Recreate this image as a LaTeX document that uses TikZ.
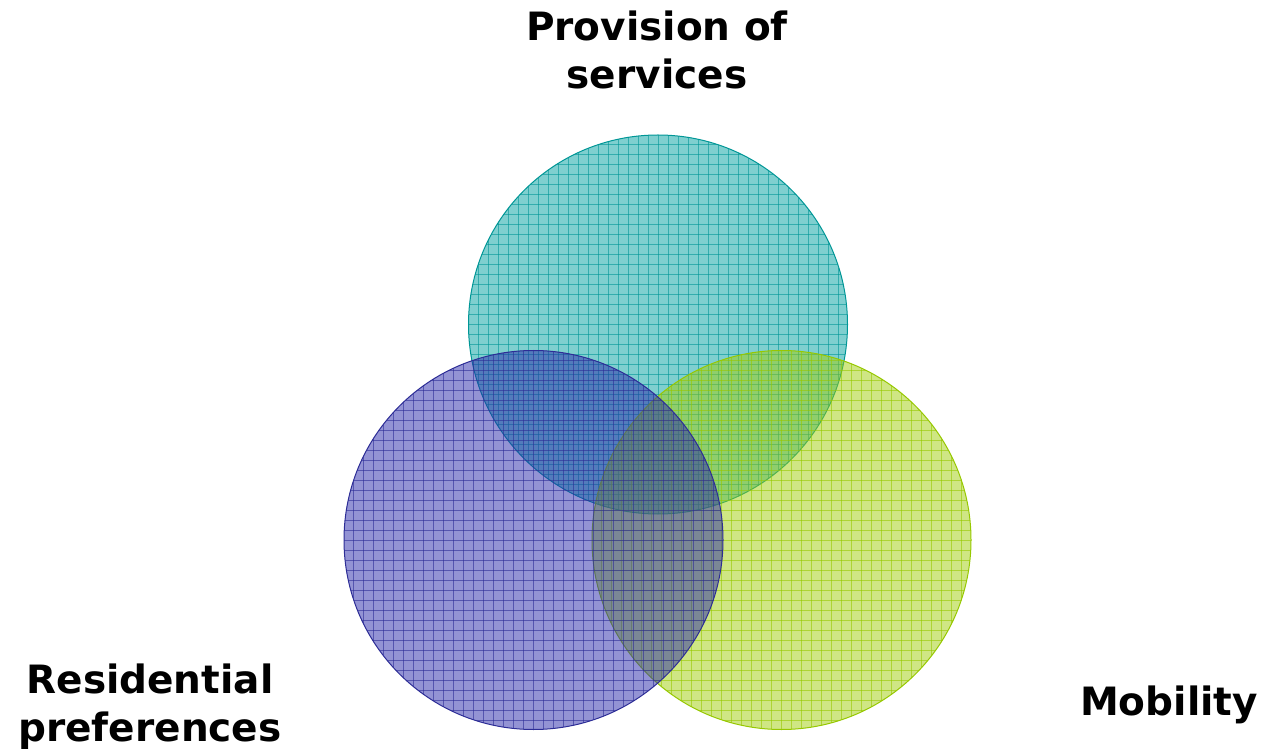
\documentclass[tikz,border=0pt]{standalone}
\usepackage{fontspec}
\setmainfont{DejaVu Sans}
\definecolor{tealF}{RGB}{0,160,160}
\definecolor{tealD}{RGB}{0,150,150}
\definecolor{greenF}{RGB}{160,205,10}
\definecolor{greenD}{RGB}{150,200,0}
\definecolor{purpF}{RGB}{40,40,170}
\definecolor{purpD}{RGB}{45,45,150}
\tikzset{
  lbl/.style={font=\bfseries\fontsize{39}{47.5}\selectfont, align=center, inner sep=0pt, text=black},
  gridl/.style={line width=0.9pt, opacity=0.6},
}
\newcommand{\gridcircle}[4]{% center, fill color, line color, radius
  \begin{scope}
    \clip (#1) circle (#4);
    \fill[#2, opacity=0.5] (#1) circle (#4);
    \foreach \i in {-19,...,19} {
      \draw[gridl, #3] ([xshift=\i*10pt, yshift=-200pt]#1) -- ++(0,400);
      \draw[gridl, #3] ([yshift=\i*10pt, xshift=-200pt]#1) -- ++(400,0);
    }
  \end{scope}
  \draw[#3, line width=1pt] (#1) circle (#4);
}
\begin{document}
\begin{tikzpicture}[x=1pt,y=1pt]
\useasboundingbox (0,0) rectangle (1261,748);
\coordinate (cT) at (658,423.5);
\coordinate (cL) at (533.5,208);
\coordinate (cR) at (781.5,208);
\gridcircle{cT}{tealF}{tealD}{189.5}
\gridcircle{cR}{greenF}{greenD}{189.5}
\gridcircle{cL}{purpF}{purpD}{189.5}
\node[lbl, anchor=north] (prov) at (657,748-11) {Provision of\\services};
\node[lbl, anchor=north] (res) at (150,748-664) {Residential\\preferences};
\node[lbl, anchor=north] (mob) at (1169,748-686) {Mobility};
\end{tikzpicture}
\end{document}
